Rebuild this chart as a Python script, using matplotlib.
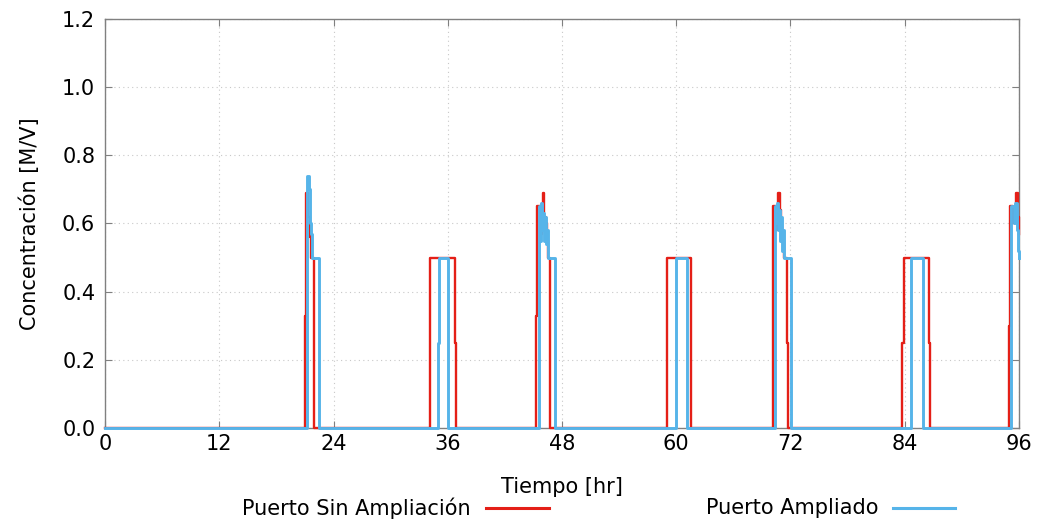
import matplotlib
matplotlib.use("Agg")
import matplotlib.pyplot as plt
from matplotlib.lines import Line2D

# ---- data (step series: value holds from each time until next) ----
sin_t = [0, 21.0, 21.1, 21.3, 21.5, 21.6, 21.65, 21.95,
         34.1, 36.8, 36.9,
         45.25, 45.4, 45.8, 45.9, 46.0, 46.1, 46.3, 46.4, 46.5, 46.75,
         59.0, 61.6,
         70.2, 70.5, 70.6, 70.7, 70.85, 71.0, 71.1, 71.3, 71.6, 71.7,
         83.75, 83.9, 86.5, 86.6,
         94.95, 95.05, 95.4, 95.55, 95.7, 95.85, 95.95, 96.0]
sin_v = [0, 0.33, 0.69, 0.62, 0.56, 0.52, 0.50, 0.0,
         0.50, 0.25, 0.0,
         0.33, 0.65, 0.57, 0.63, 0.69, 0.62, 0.60, 0.55, 0.50, 0.0,
         0.50, 0.0,
         0.65, 0.58, 0.65, 0.69, 0.64, 0.59, 0.55, 0.50, 0.25, 0.0,
         0.25, 0.50, 0.25, 0.0,
         0.30, 0.65, 0.60, 0.65, 0.69, 0.62, 0.57, 0.57]

amp_t = [0, 21.25, 21.4, 21.5, 21.55, 21.65, 21.75, 22.5,
         35.0, 35.1, 36.05,
         45.6, 45.7, 45.8, 45.9, 46.0, 46.1, 46.2, 46.3, 46.4, 46.5, 47.3,
         59.95, 61.1,
         70.4, 70.5, 70.6, 70.7, 70.8, 70.9, 71.0, 71.1, 71.25, 71.35, 72.05,
         84.7, 85.95,
         95.2, 95.5, 95.6, 95.75, 95.85, 95.95, 96.0]
amp_v = [0, 0.74, 0.70, 0.66, 0.60, 0.57, 0.50, 0.0,
         0.25, 0.50, 0.0,
         0.65, 0.55, 0.66, 0.58, 0.63, 0.55, 0.62, 0.54, 0.58, 0.50, 0.0,
         0.50, 0.0,
         0.65, 0.60, 0.66, 0.58, 0.64, 0.55, 0.62, 0.52, 0.58, 0.50, 0.0,
         0.50, 0.0,
         0.65, 0.60, 0.66, 0.58, 0.52, 0.50, 0.50]

x_ticks = [0, 12, 24, 36, 48, 60, 72, 84, 96]
y_ticks = [0.0, 0.2, 0.4, 0.6, 0.8, 1.0, 1.2]
labels = ["Puerto Sin Ampliación", "Puerto Ampliado"]
colors = ["#e41f17", "#56b4e9"]

W, H = 1039, 525
fig = plt.figure(figsize=(W / 100, H / 100), dpi=100)
ax = fig.add_axes([105 / W, 1 - 428 / H, (1019 - 105) / W, (428 - 19) / H])

ax.plot(sin_t, sin_v, drawstyle="steps-post", color=colors[0], lw=1.7, zorder=3,
        clip_on=False)
ax.plot(amp_t, amp_v, drawstyle="steps-post", color=colors[1], lw=2.1, zorder=4,
        clip_on=False)

ax.set_xlim(0, 96)
ax.set_ylim(0, 1.2)
ax.set_xticks(x_ticks)
ax.set_xticklabels([str(v) for v in x_ticks])
ax.set_yticks(y_ticks)
ax.set_yticklabels([f"{v:.1f}" for v in y_ticks])
ax.grid(True, color="#c8c8c8", linestyle=(0, (1, 3)), linewidth=0.8)
ax.set_axisbelow(True)
for s in ax.spines.values():
    s.set_color("#808080")
    s.set_linewidth(1.0)
ax.tick_params(direction="in", length=5, color="#808080", labelsize=15,
               top=True, right=True)
ax.tick_params(axis="x", pad=4)
ax.tick_params(axis="y", pad=7)
ax.set_xlabel("Tiempo [hr]", fontsize=15, labelpad=17)
ax.set_ylabel("Concentración [M/V]", fontsize=15, labelpad=16)

# legend below
ly = 1 - 508 / H
fig.text(471 / W, ly, labels[0], ha="right", va="center", fontsize=15)
fig.add_artist(Line2D([486 / W, 549 / W], [ly, ly], color=colors[0], lw=2.2,
                      transform=fig.transFigure))
fig.text(878 / W, ly, labels[1], ha="right", va="center", fontsize=15)
fig.add_artist(Line2D([893 / W, 955 / W], [ly, ly], color=colors[1], lw=2.2,
                      transform=fig.transFigure))

fig.savefig("out.png", dpi=100)
